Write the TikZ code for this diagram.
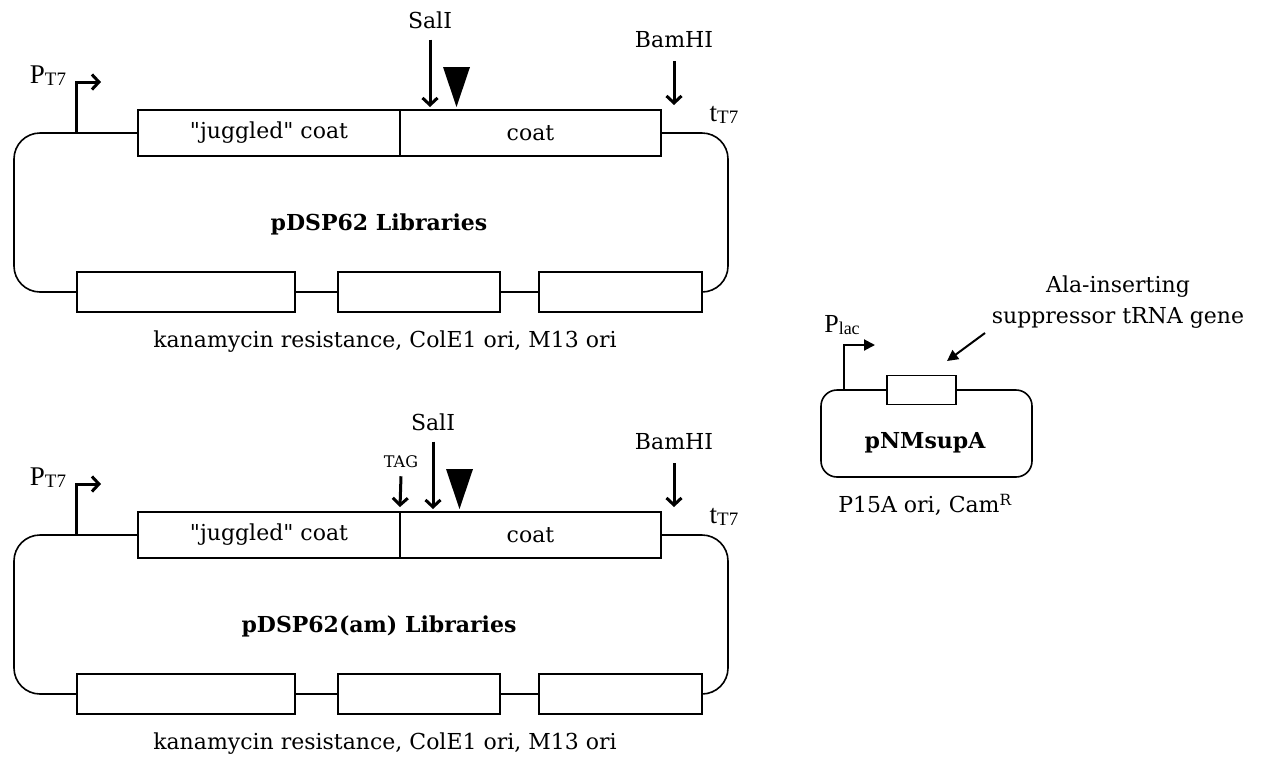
\documentclass[tikz,border=0pt]{standalone}
\usepackage{fontspec}
\setmainfont{DejaVu Serif}
\newfontfamily\tnr{Liberation Serif}
\newfontfamily\qfont{DejaVu Serif}
\newcommand\sq{{\qfont\symbol{34}}}
\usetikzlibrary{arrows.meta}
\tikzset{
  outline/.style={line width=1.6pt},
  gbox/.style={draw, line width=1.6pt, fill=white, inner sep=0pt, minimum height=46pt, font=\fontsize{22}{26}\selectfont},
  mbox/.style={draw, line width=1.6pt, fill=white, inner sep=0pt, minimum height=40pt},
  txt/.style={inner sep=0pt, font=\fontsize{22}{26}\selectfont},
  ttl/.style={inner sep=0pt, font=\fontsize{22}{27}\bfseries},
  tms/.style={inner sep=0pt, font=\tnr\fontsize{27}{30}\selectfont},
  cut/.style={line width=3pt, -{Straight Barb[length=7pt,width=15pt]}},
  thinarrow/.style={line width=2pt, -{Triangle[length=11pt,width=11pt]}},
}
\newcommand\plasmid[4]{%
\begin{scope}[yshift=-#2pt]
  \node[gbox, minimum width=262pt] (#1jc) at (269,133) {\sq juggled\sq\ coat};
  \node[gbox, minimum width=261pt] (#1coat) at (530.5,133) {coat};
  \node[mbox, minimum width=218pt] (#1kan) at (186,292) {};
  \node[mbox, minimum width=162pt] (#1col) at (419,292) {};
  \node[mbox, minimum width=163pt] (#1m) at (620.5,292) {};
  \coordinate (#1tl) at (14,133);
  \coordinate (#1bl) at (14,292);
  \coordinate (#1br) at (728,292);
  \coordinate (#1tr) at (728,133);
  \draw[outline, rounded corners=26pt] (#1jc.west) -- (#1tl) -- (#1bl) -- (#1kan.west);
  \draw[outline] (#1kan.east) -- (#1col.west) (#1col.east) -- (#1m.west);
  \draw[outline, rounded corners=26pt] (#1m.east) -- (#1br) -- (#1tr) -- (#1coat.east);
  \node[ttl] (#1title) at (379,224) {#3};
  \node[txt] (#1cap) at (385,342) {kanamycin resistance, ColE1 ori, M13 ori};
  % promoter
  \node[tms] (#1PT) at (48,76) {P\raisebox{-2pt}{\fontsize{19}{20}\selectfont T7}};
  \coordinate (#1p0) at (76,133);
  \coordinate (#1p1) at (101,82);
  \draw[cut] (#1p0) |- (#1p1);
  % terminator
  \node[tms] (#1tT) at (724,115) {t\raisebox{-2pt}{\fontsize{19}{20}\selectfont T7}};
  % SalI
  \node[txt] (#1sal) at ({430+#4},20) {SalI};
  \coordinate (#1saltip) at ({430+#4},107);
  \draw[cut] ([yshift=-11pt]#1sal.south) -- (#1saltip);
  \fill ({443+#4},67) -- ({470+#4},67) -- ({456.5+#4},107) -- cycle;
  % BamHI
  \node[txt] (#1bam) at (674,40) {BamHI};
  \coordinate (#1bamtip) at (674,105);
  \draw[cut] ([yshift=-13pt]#1bam.south) -- (#1bamtip);
\end{scope}}
\begin{document}
\begin{tikzpicture}[x=1pt, y=-1pt]
\useasboundingbox (0,0) rectangle (1263,761);
\plasmid{a}{0}{pDSP62 Libraries}{0}
\plasmid{b}{402}{pDSP62(am) Libraries}{3}
% TAG
\node[inner sep=0pt, font=\fontsize{16}{18}\selectfont] (TAG) at (401,462) {TAG};
\coordinate (TAGtip) at (400,507);
\draw[cut] ([yshift=-8pt]TAG.south) -- (TAGtip);
% pNMsupA
\node[draw, line width=1.6pt, rounded corners=16pt, minimum width=211pt, minimum height=87pt, inner sep=0pt] (pnm) at (926.5,433.5) {};
\node[mbox, minimum width=69pt, minimum height=29pt] (gene) at (921.5,390) {};
\node[ttl] (pnmtitle) at (925,443) {pNMsupA};
\node[txt] (pnmcap) at (925,505) {P15A ori, Cam\textsuperscript{R}};
\node[inner sep=0pt, font=\tnr\fontsize{26}{28}\selectfont] (Plac) at (842,325) {P\raisebox{-2pt}{\fontsize{18}{20}\selectfont lac}};
\coordinate (pl0) at (844,390);
\coordinate (pl1) at (875,345);
\draw[thinarrow] (pl0) |- (pl1);
\node[txt, align=center, font=\fontsize{22}{31}\selectfont] (ala) at (1118,302) {Ala-inserting\\suppressor tRNA gene};
\coordinate (ala0) at (985,333);
\coordinate (ala1) at (947,361);
\draw[thinarrow] (ala0) -- (ala1);
\end{tikzpicture}
\end{document}
